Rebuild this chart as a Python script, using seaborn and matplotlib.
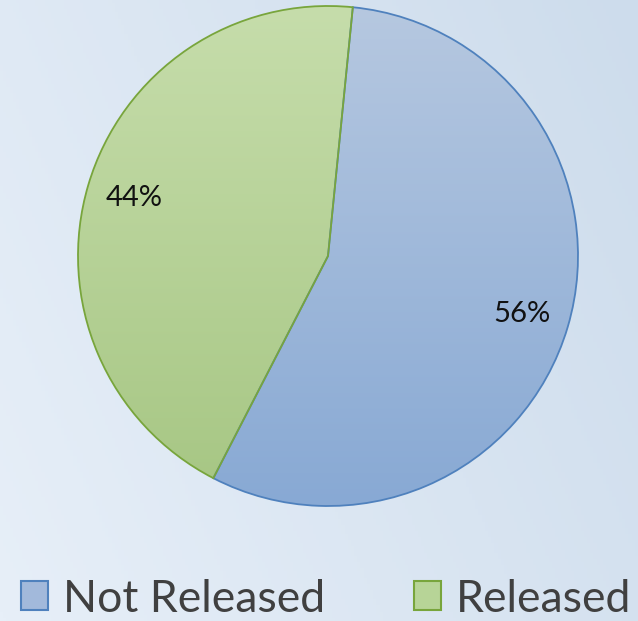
import numpy as np
import matplotlib
matplotlib.use("Agg")
import matplotlib.pyplot as plt
from matplotlib.colors import LinearSegmentedColormap
from matplotlib.patches import Patch
import seaborn as sns

sns.set_theme(style="white")
plt.rcParams['font.family'] = ['Lato', 'DejaVu Sans']

labels = ['Not Released', 'Released']
values = [56, 44]
top_colors = ['#b6c8e0', '#c6ddab']
bottom_colors = ['#88a9d4', '#a6c683']
edge_colors = ['#4f81bd', '#78a53c']

fig = plt.figure(figsize=(6.38, 6.21), dpi=100)

# background gradient
bg = fig.add_axes([0, 0, 1, 1], zorder=-1)
bg_cmap = LinearSegmentedColormap.from_list('bg', ['#e7eff8', '#cddcec'])
gx, gy = np.meshgrid(np.linspace(0, 1, 200), np.linspace(0, 1, 200))
bg.imshow(0.7 * gx + 0.3 * gy, cmap=bg_cmap, aspect='auto', origin='lower',
          extent=[0, 1, 0, 1])
bg.set_axis_off()

ax = fig.add_axes([78 / 638, 115 / 621, 500 / 638, 500 / 621])
wedges, texts, autotexts = ax.pie(values, startangle=84.3, counterclock=False,
                                  autopct='%1.0f%%', pctdistance=0.81,
                                  wedgeprops=dict(linewidth=1.3),
                                  textprops=dict(fontsize=21, color='#111111'))
ax.set_xlim(-1, 1)
ax.set_ylim(-1, 1)

for w, tc, bc, ec in zip(wedges, top_colors, bottom_colors, edge_colors):
    w.set_facecolor('none')
    w.set_edgecolor(ec)
    w.set_zorder(3)
    cmap = LinearSegmentedColormap.from_list('g', [bc, tc])
    img = ax.imshow(np.linspace(0, 1, 256).reshape(-1, 1), cmap=cmap,
                    origin='lower', extent=[-1, 1, -1, 1], aspect='auto', zorder=1)
    img.set_clip_path(w)
for t in autotexts:
    t.set_zorder(5)

handles = [Patch(facecolor=c, edgecolor=e, linewidth=1.5)
           for c, e in zip(['#a2b9db', '#b7d497'], edge_colors)]
fig.legend(handles, labels, loc='lower center', bbox_to_anchor=(0.511, -0.062),
           ncol=2, frameon=False, fontsize=32, handlelength=0.62,
           handleheight=0.62, handletextpad=0.33, columnspacing=2.0,
           labelcolor='#404040')

fig.savefig('out.png', dpi=100)
